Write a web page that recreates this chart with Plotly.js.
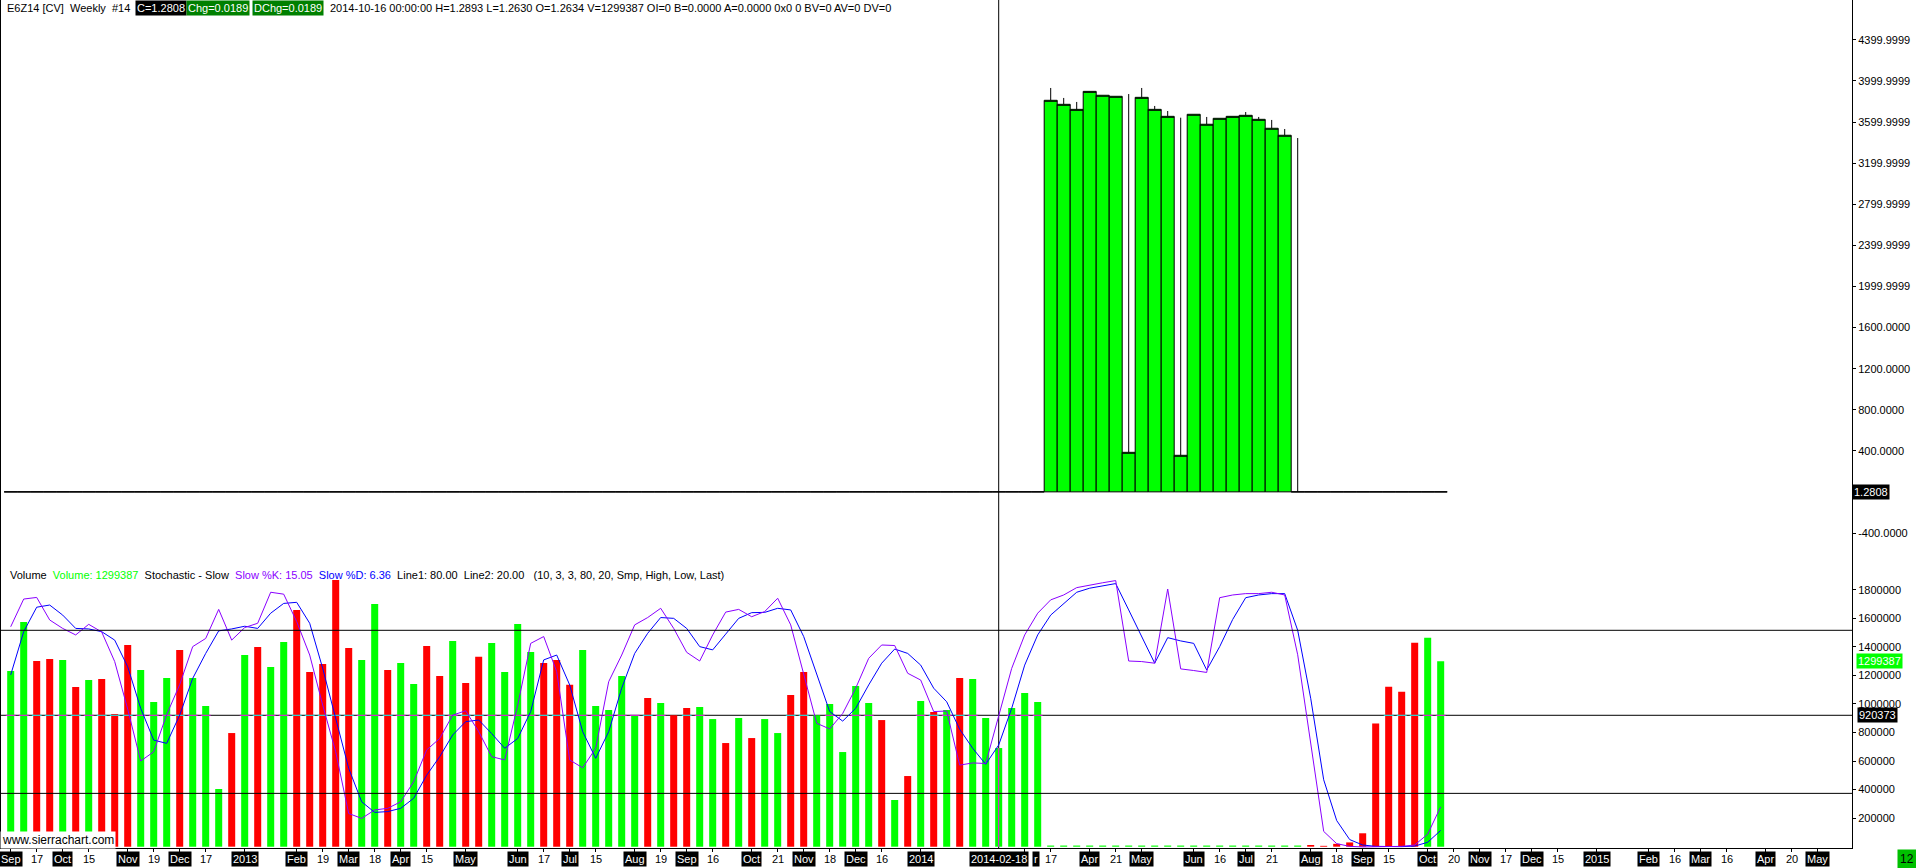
<!DOCTYPE html>
<html><head><meta charset="utf-8">
<script src="https://cdn.plot.ly/plotly-3.0.1.min.js"></script>
<style>html,body{margin:0;padding:0;background:#fff;overflow:hidden}#chart{width:1916px;height:868px}</style>
</head><body><div id="chart"></div>
<script>
// ---------- data (weekly bars, index 0 = first week of Sep 2012) ----------
const volume = [
 1230000,1574000,1301000,1315000,1308000,1118000,1168000,1175000,929000,1413000,
 1238000,1013000,1182000,1378000,1182000,985000,404000,796000,1343000,1399000,
 1259000,1434000,1658000,1224000,1280000,1868000,1392000,1308000,1700000,1238000,
 1287000,1139000,1406000,1196000,1441000,1146000,1331000,1427000,1224000,1560000,
 1364000,1287000,1308000,1135000,1378000,985000,957000,1196000,921000,1041000,
 1006000,920000,971000,978000,894000,726000,901000,761000,894000,796000,
 1062000,1224000,920000,999000,663000,1125000,1006000,887000,327000,495000,
 1020000,943000,957000,1182000,1175000,901000,691000,971000,1076000,1013000,
 8000,8000,8000,8000,8000,8000,8000,8000,8000,8000,
 8000,8000,8000,8000,8000,8000,8000,8000,8000,8000,
 12000,6000,20000,30000,94000,863000,1120000,1086000,1429000,1463000,1299387];
const volDir = [
 'G','G','R','R','G','R','G','R','R','R','G','G','G','R','G','G','G','R','G','R',
 'G','G','R','R','R','R','R','G','G','R','G','G','R','R','G','R','R','G','G','G',
 'G','R','R','R','G','G','G','G','G','R','G','R','R','G','G','R','G','R','G','G',
 'R','R','G','G','G','G','G','R','G','R','G','R','G','R','G','G','G','G','G','G',
 'G','G','G','G','G','G','G','G','G','G','G','G','G','G','G','G','G','G','G','G',
 'R','R','R','R','R','R','R','R','R','G','G'];
const stochK = [
 81.3,91.5,92.1,83.8,80.7,78.3,82.2,79.4,68.5,51.0,
 31.9,35.3,49.0,60.0,74.0,77.0,87.7,76.4,81.0,82.6,
 94.0,93.3,83.2,70.9,52.5,35.3,12.6,10.8,13.9,14.5,
 16.9,24.3,36.0,40.2,48.8,50.4,42.7,33.5,32.3,52.5,
 75.2,77.7,64.8,32.3,29.4,36.6,61.1,70.9,82.0,84.7,
 88.1,80.7,71.9,68.7,78.3,86.7,87.7,85.0,86.9,91.8,
 82.0,63.6,45.8,43.7,49.4,58.7,69.7,74.6,74.4,64.2,
 61.7,50.1,50.3,30.4,31.2,31.0,48.8,66.0,78.3,86.3,
 91.2,93.0,95.7,96.7,97.5,98.3,68.7,68.5,67.9,95.2,
 65.8,65.2,64.5,92.0,93.0,93.5,93.5,94.0,93.0,71.0,
 38.0,6.0,1.5,0.5,0.3,0.3,0.5,0.5,1.0,5.0,15.05];
const stochD = [
 63.6,79.5,88.5,89.3,85.6,80.7,80.5,79.5,76.4,66.6,
 51.3,39.6,38.4,48.8,62.3,71.5,79.8,80.5,81.5,80.7,
 86.3,89.9,90.3,82.6,66.0,47.6,29.2,16.9,13.0,13.3,
 14.5,18.2,26.7,33.5,41.5,46.4,47.0,42.0,36.6,40.2,
 50.1,69.1,70.9,59.9,42.7,32.9,42.7,58.7,71.5,78.9,
 84.7,84.4,80.7,74.0,72.8,78.6,84.4,86.5,86.6,88.1,
 87.5,77.7,63.6,50.1,46.6,51.3,59.9,67.9,73.1,71.5,
 67.2,58.7,53.7,43.6,36.6,30.7,37.8,51.3,67.2,78.3,
 85.6,89.9,94.0,95.5,96.4,97.2,87.5,77.7,67.9,77.3,
 76.1,75.2,65.4,74.0,84.0,92.0,93.0,93.5,93.5,80.0,
 55.0,25.0,10.0,3.0,1.0,0.5,0.4,0.4,0.6,2.0,6.36];
// weekly close (bad-tick weeks 80..99 keep their drawn values)
const weeklyClose = [
 1.288,1.313,1.293,1.286,1.304,1.295,1.302,1.294,1.283,1.271,
 1.281,1.297,1.300,1.293,1.309,1.317,1.322,1.319,1.307,1.336,
 1.330,1.348,1.363,1.336,1.336,1.319,1.302,1.303,1.299,1.283,
 1.309,1.311,1.302,1.303,1.310,1.299,1.284,1.293,1.295,1.315,
 1.334,1.321,1.308,1.281,1.306,1.315,1.330,1.325,1.334,1.334,
 1.338,1.334,1.315,1.333,1.331,1.346,1.356,1.355,1.354,1.368,
 1.380,1.359,1.337,1.349,1.356,1.360,1.367,1.374,1.367,1.370,
 1.359,1.363,1.355,1.368,1.349,1.351,1.360,1.371,1.380,1.391,
 3811,3772,3723,3898,3860,3850,386,3840,3723,3655,
 357,3675,3578,3636,3655,3665,3626,3539,3471,1.340,
 1.338,1.341,1.324,1.313,1.295,1.295,1.283,1.269,1.267,1.264,1.2808];
const spikeFirst = 80;
const spikeOpen = [1.377,1.380,1.379,1.385,1.384,1.386,1.383,1.388,1.389,1.392,1.390,1.388,1.385,1.380,1.383,1.376,1.364,1.362,1.358,1.340];
const spikeHigh = [3931,3834,3795,3898,3860,3850,3872,3931,3756,3707,3642,3675,3649,3636,3655,3697,3649,3620,3532,3444];
const spikeLow  = [1.372,1.375,1.374,1.380,1.379,1.381,1.378,1.383,1.384,1.387,1.385,1.383,1.380,1.375,1.378,1.371,1.359,1.357,1.353,1.335];

const tickIdx = [0,2,4,6,9,11,13,15,18,22,24,26,28,30,32,35,39,41,43,45,48,50,52,54,57,59,61,63,65,67,70,78,80,83,85,87,91,93,95,97,100,102,104,106,109,111,113,115,117,119,122,126,128,130,132,135,137,139];
const tickText = ['Sep','17','Oct','15','Nov','19','Dec','17','2013','Feb','19','Mar','18','Apr','15','May','Jun','17','Jul','15','Aug','19','Sep','16','Oct','21','Nov','18','Dec','16','2014','Mar','17','Apr','21','May','Jun','16','Jul','21','Aug','18','Sep','15','Oct','20','Nov','17','Dec','15','2015','Feb','16','Mar','16','Apr','20','May'];
const crossIdx = 76, crossDate = '2014-02-18';

const priceTickVals = [-400,400,800,1200,1600,2000,2400,2800,3200,3600,4000,4400];
const priceTickText = ['-400.0000','400.0000','800.0000','1200.0000','1600.0000','1999.9999','2399.9999','2799.9999','3199.9999','3599.9999','3999.9999','4399.9999'];
const volTickVals = [200000,400000,600000,800000,1000000,1200000,1400000,1600000,1800000];
const volAvg = 920373;
const stochLine1 = 80, stochLine2 = 20;

const symbolInfo = 'E6Z14 [CV]\u00a0\u00a0Weekly\u00a0\u00a0#14';
const lastChg = 0.0189;
const lastInfo = '2014-10-16 00:00:00 H=1.2893 L=1.2630 O=1.2634 V=1299387 OI=0 B=0.0000 A=0.0000 0x0 0 BV=0 AV=0 DV=0';
const studyParams = '(10, 3, 3, 80, 20, Smp, High, Low, Last)';

// ---------- build ----------
const N = volume.length;
const idx = volume.map((_, i) => i);
const pO = [], pH = [], pL = [], pC = [];
for (let i = 0; i < N; i++) {
  const s = i - spikeFirst;
  if (s >= 0 && s < spikeOpen.length) {
    pO.push(spikeOpen[s]); pH.push(spikeHigh[s]); pL.push(spikeLow[s]); pC.push(weeklyClose[i]);
  } else {
    pO.push(weeklyClose[i]); pH.push(weeklyClose[i]); pL.push(weeklyClose[i]); pC.push(weeklyClose[i]);
  }
}
const lastClose = weeklyClose[N - 1];
const lastVol = volume[N - 1];
const UP = '#00ff00', DN = '#ff0000';
const volColors = volDir.map(d => d === 'G' ? UP : DN);
const invX = [], invY = [], invC = [];
volume.forEach((v, i) => { if (v > volAvg) { invX.push(i); invY.push(volAvg); invC.push(volDir[i] === 'G' ? '#ff00ff' : '#00ffff'); } });

const FONT = 'Liberation Sans, Arial, sans-serif';
const PW = 1852, PH = 848;
const px2x = p => p / PW, py2y = p => (PH - p) / PH;

const traces = [
  {type:'bar', x: idx, y: volume, xaxis:'x', yaxis:'y2', width:0.54,
   marker:{color: volColors, line:{width:0}}, hoverinfo:'skip'},
  {type:'scatter', mode:'markers', x: invX, y: invY, xaxis:'x', yaxis:'y2',
   marker:{symbol:'line-ew', size:7, color: invC, line:{width:1, color: invC}}, hoverinfo:'skip'},
  {type:'scatter', mode:'lines', x:[crossIdx, crossIdx], y:[0, volume[crossIdx]], xaxis:'x', yaxis:'y2',
   line:{color:'#ff00ff', width:1}, hoverinfo:'skip'},
  {type:'scatter', mode:'lines', x: idx, y: stochD, xaxis:'x', yaxis:'y3',
   line:{color:'#0000ff', width:1}, hoverinfo:'skip'},
  {type:'scatter', mode:'lines', x: idx, y: stochK, xaxis:'x', yaxis:'y3',
   line:{color:'#8a00ff', width:1}, hoverinfo:'skip'},
  {type:'candlestick', x: idx, open: pO, high: pH, low: pL, close: pC, xaxis:'x', yaxis:'y',
   whiskerwidth:0,
   increasing:{line:{color:'#000', width:1}, fillcolor: UP},
   decreasing:{line:{color:'#000', width:1}, fillcolor: DN}, hoverinfo:'skip'}
];

const ann = [];
// header
ann.push({xref:'paper', yref:'paper', x:px2x(5), y:py2y(8), xanchor:'left', yanchor:'middle', showarrow:false,
  text: symbolInfo, font:{family:FONT, size:11, color:'#000'}});
ann.push({xref:'paper', yref:'paper', x:px2x(135), y:py2y(8), xanchor:'left', yanchor:'middle', showarrow:false,
  text: 'C=' + lastClose.toFixed(4), bgcolor:'#000', borderpad:1, font:{family:FONT, size:11, color:'#fff'}});
ann.push({xref:'paper', yref:'paper', x:px2x(186), y:py2y(8), xanchor:'left', yanchor:'middle', showarrow:false,
  text: 'Chg=' + lastChg.toFixed(4), bgcolor:'#008000', borderpad:1, font:{family:FONT, size:11, color:'#fff'}});
ann.push({xref:'paper', yref:'paper', x:px2x(252), y:py2y(8), xanchor:'left', yanchor:'middle', showarrow:false,
  text: 'DChg=' + lastChg.toFixed(4), bgcolor:'#008000', borderpad:1, font:{family:FONT, size:11, color:'#fff'}});
ann.push({xref:'paper', yref:'paper', x:px2x(328), y:py2y(8), xanchor:'left', yanchor:'middle', showarrow:false,
  text: lastInfo, font:{family:FONT, size:11, color:'#000'}});
// volume pane title
const sp = '\u00a0\u00a0';
ann.push({xref:'paper', yref:'paper', x:px2x(8), y:py2y(575), xanchor:'left', yanchor:'middle', showarrow:false,
  font:{family:FONT, size:11, color:'#000'},
  text: 'Volume' + sp + '<span style="color:#00ff00">Volume: ' + lastVol + '</span>' + sp +
        'Stochastic - Slow' + sp + '<span style="color:#8a00ff">Slow %K: ' + stochK[N-1].toFixed(2) + '</span>' + sp +
        '<span style="color:#0000ff">Slow %D: ' + stochD[N-1].toFixed(2) + '</span>' + sp +
        'Line1: ' + stochLine1.toFixed(2) + sp + 'Line2: ' + stochLine2.toFixed(2) + sp + '\u00a0' + studyParams});
// right side value boxes
ann.push({xref:'paper', yref:'y', x:1, y:lastClose, xanchor:'left', yanchor:'middle', showarrow:false,
  text: lastClose.toFixed(4), bgcolor:'#000', borderpad:1, font:{family:FONT, size:11, color:'#fff'}});
ann.push({xref:'paper', yref:'y2', x:px2x(1856), y:lastVol, xanchor:'left', yanchor:'middle', showarrow:false,
  text: String(lastVol), bgcolor:'#00ff00', borderpad:1, font:{family:FONT, size:11, color:'#fff'}});
ann.push({xref:'paper', yref:'y2', x:px2x(1857), y:volAvg, xanchor:'left', yanchor:'middle', showarrow:false,
  text: String(volAvg), bgcolor:'#000', borderpad:1, font:{family:FONT, size:11, color:'#fff'}});
ann.push({xref:'paper', yref:'paper', x:px2x(1897), y:py2y(859), xanchor:'left', yanchor:'middle', showarrow:false,
  text: '12', bgcolor:'#00c000', borderpad:2, font:{family:FONT, size:12, color:'#000'}});
ann.push({xref:'paper', yref:'paper', x:0, y:py2y(840), xanchor:'left', yanchor:'middle', showarrow:false,
  text: 'www.sierrachart.com', bgcolor:'#fff', borderpad:1, font:{family:FONT, size:12, color:'#000'}});
// x labels (the month label hidden under the crosshair date only shows its last letter)
tickIdx.forEach((t, k) => {
  const s = tickText[k];
  const boxed = isNaN(+s) || +s > 31;
  const hidden = Math.abs(t - crossIdx) < 3;
  if (hidden) {
    ann.push({xref:'x', yref:'paper', x:crossIdx, y:0, yanchor:'top', yshift:-3, xanchor:'left', xshift:33, showarrow:false,
      text: s.slice(-1), bgcolor:'#000', borderpad:1, font:{family:FONT, size:11, color:'#fff'}});
    return;
  }
  ann.push({xref:'x', yref:'paper', x:t, y:0, yanchor:'top', yshift:-3, xanchor:'center', showarrow:false,
    text: s, bgcolor: boxed ? '#000' : 'rgba(0,0,0,0)', borderpad:1,
    font:{family:FONT, size:11, color: boxed ? '#fff' : '#000'}});
});
ann.push({xref:'x', yref:'paper', x:crossIdx, y:0, yanchor:'top', yshift:-3, xanchor:'center', showarrow:false,
  text: crossDate, bgcolor:'#000', borderpad:1, font:{family:FONT, size:11, color:'#fff'}});

const shapes = [
  {type:'line', xref:'paper', yref:'paper', x0:0, x1:0, y0:0, y1:1, line:{color:'#000', width:2}},
  {type:'line', xref:'x', yref:'paper', x0:crossIdx, x1:crossIdx, y0:0, y1:1, line:{color:'#000', width:1}, layer:'below'},
  {type:'line', xref:'paper', yref:'y2', x0:0, x1:1, y0:volAvg, y1:volAvg, line:{color:'#000', width:1}, layer:'below'},
  {type:'line', xref:'paper', yref:'y3', x0:0, x1:1, y0:stochLine1, y1:stochLine1, line:{color:'#000', width:1}},
  {type:'line', xref:'paper', yref:'y3', x0:0, x1:1, y0:stochLine2, y1:stochLine2, line:{color:'#000', width:1}}
];

const split = (PH - 564) / PH;
const axCommon = {showgrid:false, zeroline:false, showline:true, linecolor:'#000', linewidth:1,
  ticks:'outside', ticklen:3, tickcolor:'#000', tickfont:{family:FONT, size:11, color:'#000'}, fixedrange:true};
const layout = {
  width:1916, height:868,
  margin:{l:0, r:64, t:0, b:20, pad:0},
  paper_bgcolor:'#fff', plot_bgcolor:'#fff',
  showlegend:false, hovermode:false,
  font:{family:FONT, size:11, color:'#000'},
  boxgap:0.0, boxgroupgap:0,
  xaxis: Object.assign({}, axCommon, {range:[-0.823, 141.64], domain:[0,1], anchor:'y2',
    tickvals: tickIdx, showticklabels:false, rangeslider:{visible:false}}),
  yaxis: Object.assign({}, axCommon, {domain:[split, 1], side:'right', anchor:'x', range:[-700.6, 4787],
    tickvals: priceTickVals, ticktext: priceTickText}),
  yaxis2: Object.assign({}, axCommon, {domain:[0, split], side:'right', anchor:'x', range:[-9100, 1980000],
    tickvals: volTickVals, ticktext: volTickVals.map(String)}),
  yaxis3: {overlaying:'y2', side:'right', anchor:'x', range:[-0.1, 104.4], visible:false, fixedrange:true},
  shapes: shapes,
  annotations: ann
};
Plotly.newPlot('chart', traces, layout, {staticPlot:true, displayModeBar:false});
</script></body></html>
